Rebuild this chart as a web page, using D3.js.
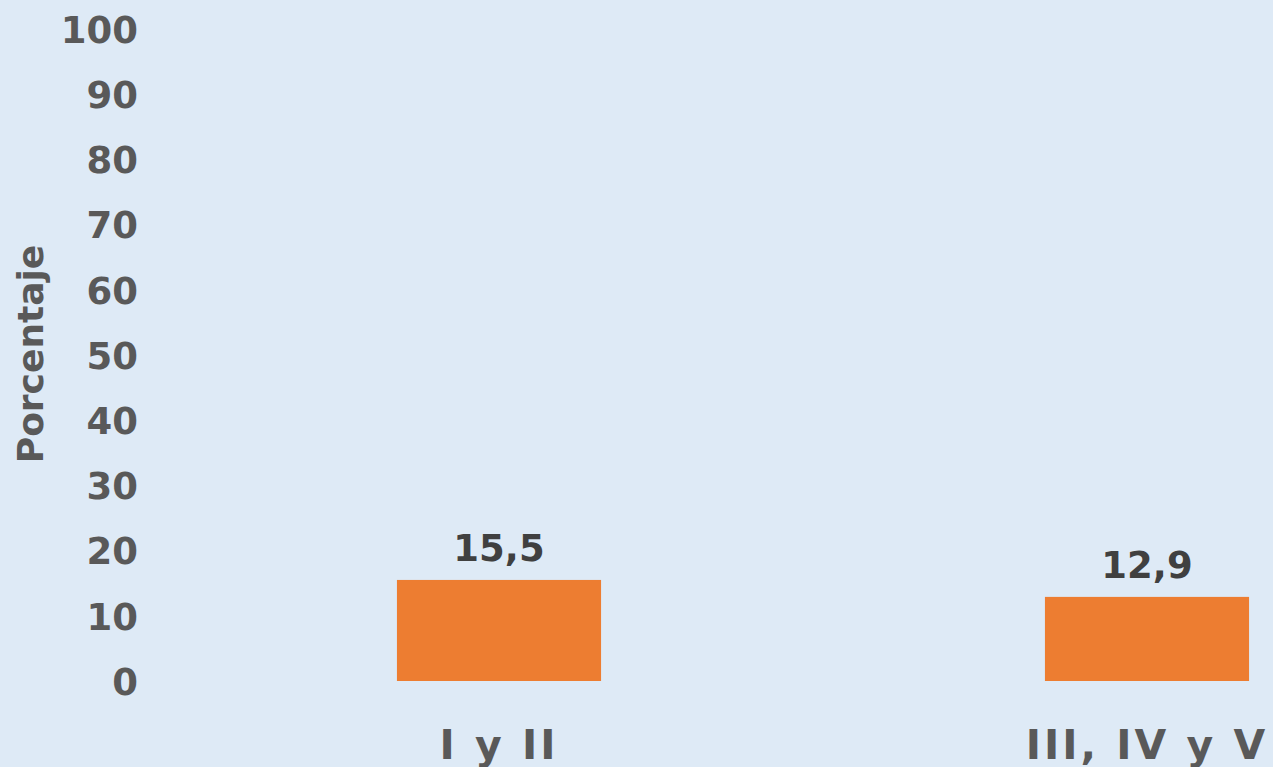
<!DOCTYPE html>
<html>
<head>
<meta charset="utf-8">
<script src="https://cdn.jsdelivr.net/npm/d3@7"></script>
<style>
  html, body { margin: 0; padding: 0; background: #deeaf6; overflow: hidden; }
  svg { display: block; font-family: "DejaVu Sans", Verdana, sans-serif; font-weight: bold; }
</style>
</head>
<body>
<script>
var categories = ["I y II", "III, IV y V"];
var values = [15.5, 12.9];
var valueLabels = ["15,5", "12,9"];
var yTicks = [0, 10, 20, 30, 40, 50, 60, 70, 80, 90, 100];

var W = 1273, H = 767;
// plot area runs past the right edge, as in the cropped original
var margin = { top: 29, left: 175 },
  width = 1296,
  height = 681 - margin.top;

var svg = d3
  .select("body")
  .append("svg")
  .attr("width", W)
  .attr("height", H);

svg.append("rect").attr("width", W).attr("height", H).attr("fill", "#deeaf6");

var g = svg.append("g")
  .attr("transform", "translate(" + margin.left + "," + margin.top + ")");

var x = d3.scaleBand()
  .domain(categories)
  .range([0, width])
  .paddingInner(0.685)
  .paddingOuter(0.3425);

var y = d3.scaleLinear().domain([0, 100]).range([height, 0]);

// y axis, labels only
var yAxis = g.append("g")
  .attr("transform", "translate(-37,0)")
  .call(d3.axisLeft(y).tickValues(yTicks).tickSize(0).tickPadding(0));
yAxis.select(".domain").remove();
yAxis.selectAll("text")
  .attr("fill", "#595959")
  .attr("dy", "0.36em")
  .style("font-size", "37px")
  .style("font-family", "DejaVu Sans, sans-serif")
  .style("font-weight", "bold");

g.selectAll(".bar")
  .data(values)
  .enter()
  .append("rect")
  .attr("class", "bar")
  .attr("x", function (d, i) { return x(categories[i]); })
  .attr("width", x.bandwidth())
  .attr("y", function (d) { return y(d); })
  .attr("height", function (d) { return height - y(d); })
  .attr("fill", "#ed7d31");

g.selectAll(".val")
  .data(values)
  .enter()
  .append("text")
  .attr("class", "val")
  .attr("x", function (d, i) { return x(categories[i]) + x.bandwidth() / 2; })
  .attr("y", function (d) { return y(d) - 19; })
  .attr("text-anchor", "middle")
  .attr("fill", "#404040")
  .style("font-size", "37px")
  .text(function (d, i) { return valueLabels[i]; });

// x axis labels
var xAxis = g.append("g")
  .attr("transform", "translate(0," + height + ")")
  .call(d3.axisBottom(x).tickSize(0).tickPadding(0));
xAxis.select(".domain").remove();
xAxis.selectAll("text")
  .attr("fill", "#595959")
  .attr("y", 78)
  .attr("dy", 0)
  .style("font-size", "41px")
  .style("letter-spacing", "3px")
  .style("font-family", "DejaVu Sans, sans-serif")
  .style("font-weight", "bold");

svg.append("text")
  .attr("transform", "translate(43,354) rotate(-90)")
  .attr("text-anchor", "middle")
  .attr("fill", "#595959")
  .style("font-size", "36px")
  .text("Porcentaje");
</script>
</body>
</html>
